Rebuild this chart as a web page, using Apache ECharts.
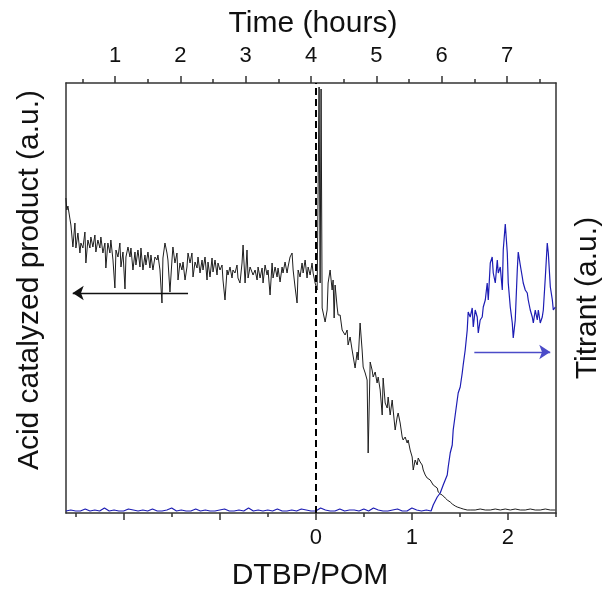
<!DOCTYPE html>
<html><head><meta charset="utf-8">
<script src="https://cdn.jsdelivr.net/npm/echarts@6/dist/echarts.min.js"></script>
<style>html,body{margin:0;padding:0;background:#fff}#c{width:605px;height:589px}</style>
</head><body><div id="c"></div>
<script>
// ---- axis ticks / labels ----
const dtbpMajorTicks = [-2, -1, 0, 1, 2];
const dtbpMinorTicks = [-2.5, -1.5, -0.5, 0.5, 1.5, 2.5];
const dtbpLabels = [0, 1, 2];
const timeMajorTicks = [1, 2, 3, 4, 5, 6, 7];
const timeMinorTicks = [0.5, 1.5, 2.5, 3.5, 4.5, 5.5, 6.5, 7.5];
const dtbpRange = [-2.6, 2.5];
const timeRange = [0.25, 7.75];
const signalRange = [0, 430];

// ---- acid catalyzed product (left axis) ----
const productX = [-2.601,-2.591,-2.580,-2.549,-2.528,-2.507,-2.497,-2.476,-2.455,-2.445,-2.424,-2.403,-2.393,-2.372,-2.351,-2.341,-2.320,-2.299,-2.289,-2.268,-2.247,-2.237,-2.216,-2.195,-2.185,-2.164,-2.143,-2.133,-2.111,-2.091,-2.080,-2.059,-2.039,-2.028,-2.007,-1.986,-1.976,-1.955,-1.934,-1.924,-1.903,-1.882,-1.872,-1.851,-1.830,-1.820,-1.799,-1.778,-1.768,-1.747,-1.726,-1.716,-1.695,-1.674,-1.653,-1.643,-1.622,-1.601,-1.591,-1.570,-1.549,-1.539,-1.518,-1.497,-1.487,-1.466,-1.445,-1.434,-1.414,-1.393,-1.382,-1.361,-1.341,-1.330,-1.309,-1.289,-1.278,-1.257,-1.236,-1.226,-1.205,-1.184,-1.174,-1.153,-1.132,-1.122,-1.101,-1.080,-1.070,-1.049,-1.028,-1.018,-0.997,-0.976,-0.966,-0.945,-0.924,-0.914,-0.893,-0.872,-0.862,-0.841,-0.820,-0.810,-0.789,-0.768,-0.757,-0.736,-0.716,-0.705,-0.684,-0.664,-0.653,-0.632,-0.611,-0.601,-0.580,-0.559,-0.549,-0.528,-0.507,-0.497,-0.476,-0.455,-0.445,-0.424,-0.403,-0.393,-0.372,-0.351,-0.341,-0.320,-0.299,-0.289,-0.268,-0.247,-0.236,-0.216,-0.195,-0.184,-0.164,-0.143,-0.132,-0.111,-0.091,-0.080,-0.059,-0.039,-0.028,-0.007,0.014,0.034,0.045,0.055,0.066,0.076,0.097,0.118,0.128,0.149,0.170,0.180,0.191,0.201,0.222,0.232,0.253,0.274,0.284,0.305,0.326,0.336,0.357,0.378,0.388,0.409,0.430,0.441,0.461,0.482,0.493,0.514,0.534,0.545,0.566,0.586,0.597,0.618,0.638,0.649,0.670,0.691,0.701,0.722,0.743,0.753,0.774,0.795,0.805,0.826,0.847,0.857,0.878,0.899,0.909,0.930,0.951,0.961,0.982,1.003,1.014,1.034,1.055,1.066,1.086,1.107,1.118,1.139,1.159,1.170,1.191,1.211,1.222,1.264,1.274,1.295,1.316,1.347,1.368,1.399,1.420,1.451,1.472,1.503,1.534,1.576,1.607,1.659,1.711,1.764,1.816,1.868,1.920,1.972,2.024,2.076,2.128,2.180,2.232,2.284,2.336,2.389,2.441,2.493];
const productY = [315,303,307,288,266,290,265,280,260,270,265,281,250,273,265,276,266,278,261,273,265,276,260,270,245,270,260,273,253,225,263,256,270,246,261,224,256,266,256,265,243,261,248,263,246,265,243,258,248,261,245,258,243,256,253,258,243,210,255,270,260,253,221,253,266,250,260,233,250,243,251,233,246,260,250,260,236,251,245,256,240,253,243,256,233,251,236,255,241,253,238,250,243,248,233,213,243,238,246,235,243,240,248,235,230,250,268,230,263,235,246,246,238,243,233,246,235,245,230,248,238,243,218,250,235,246,236,245,231,246,240,251,240,246,256,260,243,226,210,243,236,250,240,253,235,246,238,250,240,230,223,426,230,424,205,203,191,203,230,243,223,233,195,228,206,198,198,183,185,178,183,168,176,163,161,145,161,153,190,163,146,140,133,60,151,143,136,141,130,136,123,98,135,110,105,116,98,113,103,83,96,100,90,76,73,76,70,73,63,56,43,53,48,55,51,48,43,38,35,33,33,31,28,25,21,19,18,15,13,11,9,7,6,5,4,3,3,3,4,3,3,4,3,4,3,4,3,3,4,3,3,4,3,3];

// ---- titrant (right axis) ----
const titrantX = [-2.60,-2.55,-2.50,-2.45,-2.40,-2.35,-2.30,-2.25,-2.20,-2.15,-2.10,-2.05,-2.00,-1.95,-1.90,-1.85,-1.80,-1.75,-1.70,-1.65,-1.60,-1.55,-1.50,-1.45,-1.40,-1.35,-1.30,-1.25,-1.20,-1.15,-1.10,-1.05,-1.00,-0.95,-0.90,-0.85,-0.80,-0.75,-0.70,-0.65,-0.60,-0.55,-0.50,-0.45,-0.40,-0.35,-0.30,-0.25,-0.20,-0.15,-0.10,-0.05,0.00,0.05,0.10,0.15,0.20,0.25,0.30,0.35,0.40,0.45,0.50,0.55,0.60,0.65,0.70,0.75,0.80,0.85,0.90,0.95,1.00,1.05,1.10,1.15,1.20,1.222,1.264,1.295,1.326,1.347,1.368,1.378,1.399,1.420,1.430,1.451,1.472,1.482,1.503,1.524,1.534,1.555,1.576,1.586,1.607,1.628,1.639,1.659,1.680,1.691,1.711,1.732,1.743,1.764,1.784,1.795,1.816,1.836,1.847,1.868,1.889,1.899,1.920,1.941,1.951,1.972,1.993,2.003,2.024,2.045,2.055,2.076,2.097,2.107,2.128,2.149,2.159,2.180,2.201,2.211,2.232,2.253,2.264,2.284,2.305,2.316,2.336,2.357,2.368,2.389,2.409,2.420,2.441,2.462,2.472,2.493];
const titrantY = [2,3,2,2,4,2,3,2,5,2,3,2,2,4,3,2,3,2,4,2,2,3,5,2,3,2,2,4,2,3,2,2,3,4,2,2,3,2,5,2,3,2,3,2,4,2,2,3,2,4,3,2,2,5,3,2,2,4,2,3,3,2,4,2,5,3,2,2,3,4,2,2,5,3,2,3,2,8,16,20,28,33,38,46,60,68,83,98,113,120,126,140,148,163,183,201,196,205,186,203,196,180,193,196,206,213,230,213,250,256,240,230,253,240,246,223,263,289,260,230,206,190,175,193,243,261,248,236,230,223,220,213,203,196,190,203,193,203,190,196,203,236,270,260,226,213,203,206];

// ---- annotations ----
const additionLine = 0;              // DTBP/POM = 0 marker
const productArrow = [[-1.33, 220], [-2.53, 220]];
const titrantArrow = [[1.65, 161], [2.44, 161]];

const zip = (xs, ys) => xs.map((x, i) => [x, ys[i]]);
const FONT = '"Liberation Sans", Arial, sans-serif';
const frame = { color: '#333', width: 1.5 };
const gridBox = { left: 66, right: 49, top: 83, bottom: 76, containLabel: false };
const hiddenAxis = { axisLine: { show: false, onZero: false }, axisLabel: { show: false }, splitLine: { show: false } };

const chart = echarts.init(document.getElementById('c'), null, { renderer: 'canvas' });
chart.setOption({
  animation: false,
  backgroundColor: '#fff',
  grid: [Object.assign({}, gridBox), Object.assign({}, gridBox)],
  xAxis: [
    { gridIndex: 0, type: 'value', position: 'bottom', min: dtbpRange[0], max: dtbpRange[1],
      axisLine: { show: true, onZero: false, lineStyle: frame },
      axisTick: { show: true, customValues: dtbpMajorTicks, length: 7, lineStyle: frame },
      axisLabel: { show: true, customValues: dtbpLabels, fontSize: 22, fontFamily: FONT, color: '#111', margin: 14 },
      splitLine: { show: false } },
    { gridIndex: 0, type: 'value', position: 'top', min: timeRange[0], max: timeRange[1],
      axisLine: { show: true, onZero: false, lineStyle: frame },
      axisTick: { show: true, customValues: timeMajorTicks, length: 7, lineStyle: frame },
      axisLabel: { show: true, customValues: timeMajorTicks, fontSize: 22, fontFamily: FONT, color: '#111', margin: 16 },
      splitLine: { show: false } },
    Object.assign({ gridIndex: 1, type: 'value', position: 'bottom', min: dtbpRange[0], max: dtbpRange[1],
      axisTick: { show: true, customValues: dtbpMinorTicks, length: 4, lineStyle: frame } }, hiddenAxis),
    Object.assign({ gridIndex: 1, type: 'value', position: 'top', min: timeRange[0], max: timeRange[1],
      axisTick: { show: true, customValues: timeMinorTicks, length: 4, lineStyle: frame } }, hiddenAxis)
  ],
  yAxis: [
    { gridIndex: 0, type: 'value', position: 'left', min: signalRange[0], max: signalRange[1],
      axisLine: { show: true, onZero: false, lineStyle: frame },
      axisTick: { show: false }, axisLabel: { show: false }, splitLine: { show: false } },
    { gridIndex: 0, type: 'value', position: 'right', min: signalRange[0], max: signalRange[1],
      axisLine: { show: true, onZero: false, lineStyle: frame },
      axisTick: { show: false }, axisLabel: { show: false }, splitLine: { show: false } },
    Object.assign({ gridIndex: 1, type: 'value', min: signalRange[0], max: signalRange[1], axisTick: { show: false } }, hiddenAxis)
  ],
  series: [
    { name: 'Acid catalyzed product', type: 'line', xAxisIndex: 0, yAxisIndex: 0,
      data: zip(productX, productY), showSymbol: false, symbol: 'none',
      lineStyle: { color: '#1e1e1e', width: 1 },
      markLine: { silent: true, symbol: ['none', 'arrow'], symbolSize: 11, z: 5,
        label: { show: false },
        lineStyle: { color: '#111', width: 1.3, type: 'solid' },
        data: [[{ coord: productArrow[0] }, { coord: productArrow[1] }]] } },
    { name: 'Titrant', type: 'line', xAxisIndex: 0, yAxisIndex: 1,
      data: zip(titrantX, titrantY), showSymbol: false, symbol: 'none',
      lineStyle: { color: '#1d1db4', width: 1.2 },
      markLine: { silent: true, symbol: ['none', 'arrow'], symbolSize: 11, z: 5,
        label: { show: false },
        lineStyle: { color: '#4b4bc8', width: 1.3, type: 'solid' },
        data: [[{ coord: titrantArrow[0] }, { coord: titrantArrow[1] }]] } },
    { name: 'divider', type: 'line', xAxisIndex: 0, yAxisIndex: 0, data: [],
      markLine: { silent: true, symbol: ['none', 'none'], z: 6,
        label: { show: false },
        lineStyle: { color: '#000', width: 2, type: [7, 4] },
        data: [{ xAxis: additionLine }] } }
  ],
  graphic: [
    { type: 'text', x: 313, y: 24, style: { text: 'Time (hours)', font: '30px ' + FONT, fill: '#111', textAlign: 'center', textVerticalAlign: 'middle' } },
    { type: 'text', x: 310, y: 576, style: { text: 'DTBP/POM', font: '30px ' + FONT, fill: '#111', textAlign: 'center', textVerticalAlign: 'middle' } },
    { type: 'text', x: 30, y: 280, rotation: Math.PI / 2, style: { text: 'Acid catalyzed product (a.u.)', font: '30px ' + FONT, fill: '#111', textAlign: 'center', textVerticalAlign: 'middle' } },
    { type: 'text', x: 588, y: 298, rotation: Math.PI / 2, style: { text: 'Titrant (a.u.)', font: '30px ' + FONT, fill: '#111', textAlign: 'center', textVerticalAlign: 'middle' } }
  ]
});
</script>
</body></html>
